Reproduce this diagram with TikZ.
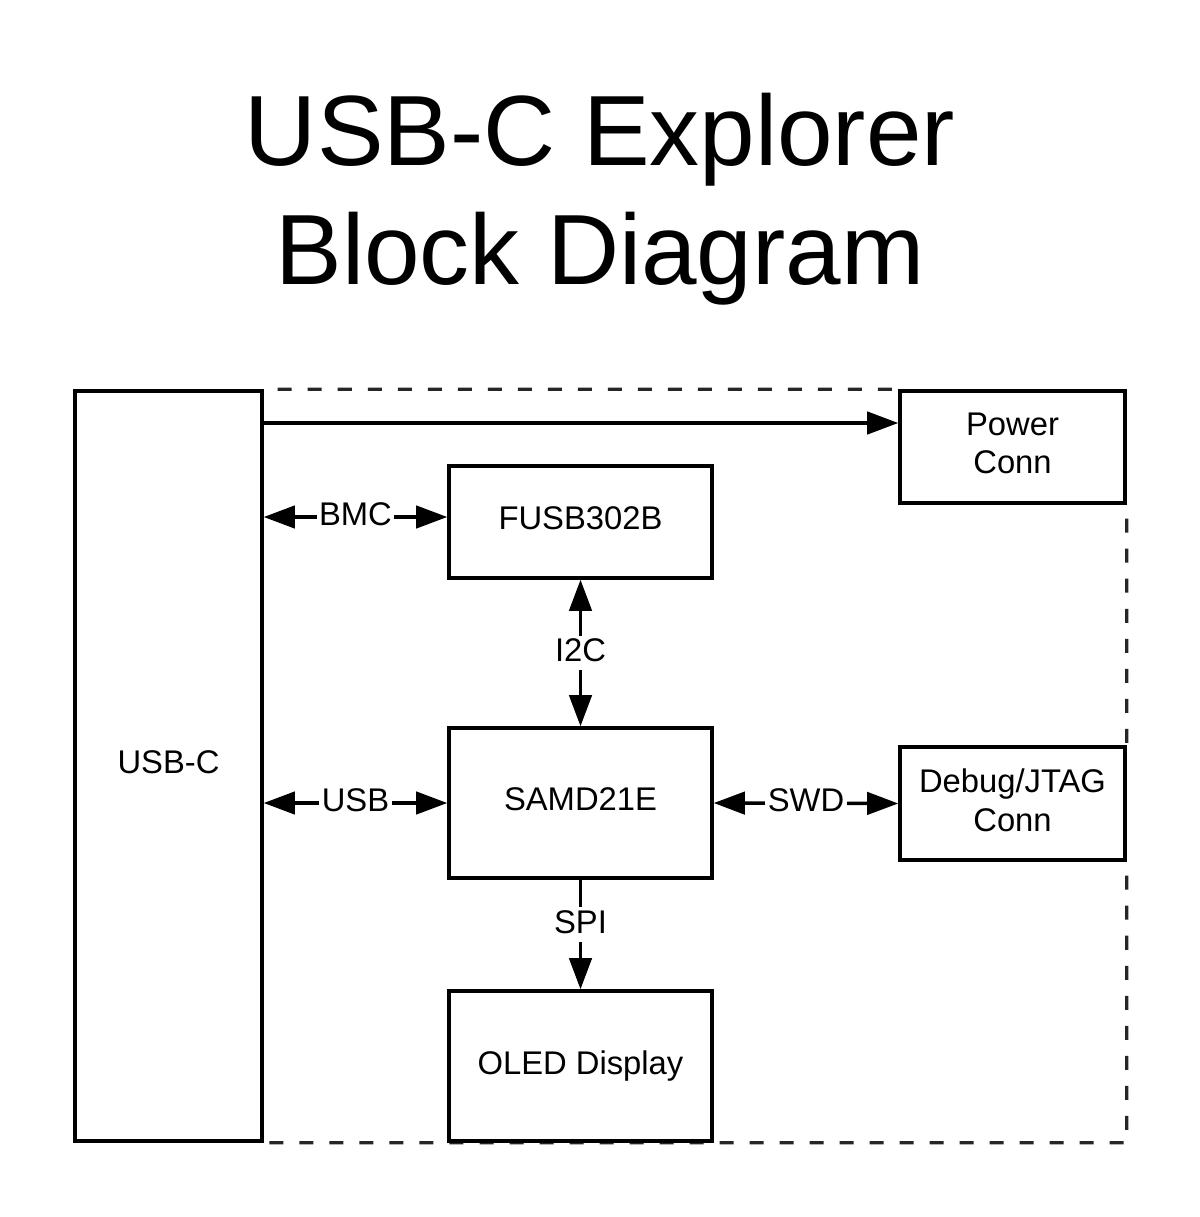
\documentclass[tikz,border=0pt]{standalone}
\usepackage{fontspec}
\setmainfont{Liberation Sans}
\usetikzlibrary{arrows.meta,positioning,backgrounds}
\tikzset{%
  block/.style={draw, line width=0.085cm, inner sep=0pt, align=center, text depth=0.19cm, font=\fontsize{23.3}{27.7}\selectfont},
  line/.style={draw, line width=0.085cm, -{Triangle[length=0.78cm,width=0.56cm]}},
  dline/.style={draw, line width=0.085cm, {Triangle[length=0.78cm,width=0.56cm]}-{Triangle[length=0.78cm,width=0.56cm]}},
  bus/.style={fill=white, inner xsep=0.06cm, inner ysep=0.08cm, text depth=0.4em, font=\fontsize{23.3}{26}\selectfont},
  boundary/.style={draw=black!85, line width=0.08cm, dash pattern=on 0.35cm off 0.4cm, dash phase=0.4cm},
  headline/.style={inner sep=0pt, align=center, font=\fontsize{71}{85}\selectfont},
}
\newcommand{\buslink}[5][midway]{%
  \path [#2] (#3) -- node [bus, #1] {#4} (#5);}

\begin{document}
\begin{tikzpicture}[x=0.025cm, y=-0.025cm]
  \useasboundingbox (0,0) rectangle (1200,1217);

  \node (title) [headline] at (600,199) {USB-C Explorer\\Block Diagram};

  % blocks
  \node (usbc)  [block, minimum width=4.675cm, minimum height=18.75cm] at (168.5,766) {USB-C};
  \node (power) [block, minimum width=5.625cm, minimum height=2.8cm] at (1012.5,447) {Power\\Conn};
  \node (fusb)  [block, minimum width=6.575cm, minimum height=2.8cm] at (580.5,522) {FUSB302B};
  \node (samd)  [block, minimum width=6.575cm, minimum height=3.75cm] at (580.5,803) {SAMD21E};
  \node (oled)  [block, minimum width=6.575cm, minimum height=3.75cm] at (580.5,1066) {OLED Display};
  \node (debug) [block, minimum width=5.625cm, minimum height=2.825cm] at (1012.5,803.5) {Debug/JTAG\\Conn};

  % board outline
  \begin{scope}[on background layer]
    \draw [boundary] (usbc.north east) -- (power.north west)
      (power.south east) -- (debug.north east)
      (debug.south east) -- (debug.east |- oled.south) -- (usbc.south east);
  \end{scope}

  \coordinate (vbustap) at (0,423);
  \coordinate (bmctap) at (0,517);
  \path [line] (usbc.east |- vbustap) -- (power.west |- vbustap);

  \buslink{dline}{usbc.east |- bmctap}{BMC}{fusb.west |- bmctap};
  \buslink{dline}{fusb.south}{I2C}{samd.north};
  \buslink{dline}{usbc.east |- samd.west}{USB}{samd.west};
  \buslink{dline}{samd.east}{SWD}{debug.west};
  \buslink[pos=0.41]{line}{samd.south}{SPI}{oled.north};
\end{tikzpicture}
\end{document}
